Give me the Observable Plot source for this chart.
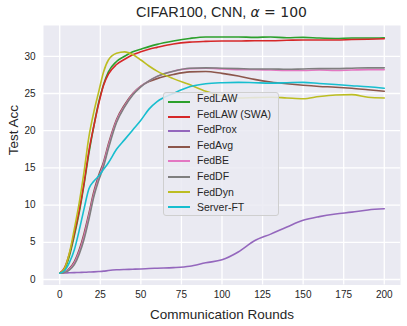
<!DOCTYPE html>
<html>
<head>
<meta charset="utf-8">
<script src="https://cdn.jsdelivr.net/npm/d3@7"></script>
<script src="https://cdn.jsdelivr.net/npm/@observablehq/plot@0.6"></script>
<style>
  html, body { margin: 0; padding: 0; background: #ffffff; }
  #wrap { position: relative; width: 407px; height: 326px; font-family: "Liberation Sans", Arial, sans-serif; color: #262626; }
  #title { position: absolute; left: 43px; width: 357px; top: 3px; text-align: center; font-size: 14.5px; line-height: 18px; white-space: nowrap; }
  #title .m { font-family: "DejaVu Sans", sans-serif; font-size: 14px; }
  #legend { position: absolute; left: 163px; top: 92px; width: 116px; height: 124px; box-sizing: border-box;
            border: 1px solid #cfcfcf; border-radius: 3px; background: rgba(234,234,242,0.85); }
  #legend .row { position: absolute; left: 0; height: 16px; line-height: 16px; font-size: 10.5px; white-space: nowrap; }
  #legend .sw { position: absolute; left: 4px; width: 22px; height: 0; border-top: 2px solid; }
  #legend .lb { position: absolute; left: 33px; top: 0; }
</style>
</head>
<body>
<div id="wrap">
  <div id="chart"></div>
  <div id="title">CIFAR100, CNN, <span class="m"><i>α</i> = 100</span></div>
  <div id="legend"></div>
</div>
<script>
// ---- data ----
const rounds = [0,3,6,9,12,15,18,21,24,27,30,35,40,45,50,55,60,70,80,90,100,110,120,130,140,150,160,170,180,190,200];

const seriesNames = ["FedLAW","FedLAW (SWA)","FedProx","FedAvg","FedBE","FedDF","FedDyn","Server-FT"];
const seriesColors = ["#2ca02c","#d62728","#9467bd","#8c564b","#e377c2","#7f7f7f","#bcbd22","#17becf"];

const fedLAW    = [0.85,1.4,3.2,5.9,9.0,12.8,17.0,20.6,23.8,26.2,27.9,29.3,30.0,30.6,30.95,31.3,31.6,32.05,32.4,32.6,32.6,32.6,32.55,32.6,32.5,32.55,32.45,32.4,32.45,32.45,32.5];
const fedLAWSWA = [0.85,1.6,3.5,6.2,9.3,13.0,17.3,20.6,23.6,26.1,27.6,28.9,29.6,30.2,30.6,30.95,31.2,31.65,31.9,32.0,32.05,32.05,32.1,32.1,32.15,32.2,32.2,32.2,32.25,32.3,32.35];
const fedProx   = [0.85,0.87,0.9,0.92,0.95,0.97,1.0,1.03,1.07,1.12,1.2,1.3,1.35,1.38,1.42,1.47,1.52,1.6,1.78,2.25,2.65,3.7,5.2,6.1,7.05,7.95,8.45,8.8,9.05,9.35,9.5];
const fedAvg    = [0.85,1.0,1.5,2.4,4.0,6.2,8.9,11.8,14.0,15.8,18.2,21.5,23.5,25.0,26.0,26.6,27.0,27.55,27.9,27.95,27.7,27.35,26.9,26.55,26.3,26.1,25.95,25.85,25.7,25.5,25.3];
const fedBE     = [0.85,0.97,1.4,2.2,3.7,5.8,8.5,11.4,13.6,15.5,17.9,21.3,23.3,24.9,25.95,26.7,27.3,28.0,28.35,28.4,28.3,28.2,28.2,28.15,28.1,28.1,28.15,28.1,28.15,28.2,28.2];
const fedDF     = [0.85,0.95,1.3,2.0,3.4,5.4,8.1,11.1,13.3,15.2,17.6,21.1,23.2,24.8,25.9,26.7,27.3,28.0,28.4,28.45,28.4,28.35,28.3,28.3,28.25,28.3,28.35,28.35,28.4,28.45,28.45];
const fedDyn    = [0.85,1.5,3.6,6.8,10.3,14.5,19.2,22.5,25.2,27.9,29.5,30.4,30.6,30.25,29.5,28.7,28.0,27.0,26.2,25.3,24.7,24.4,24.45,24.5,24.4,24.3,24.6,24.8,24.85,24.5,24.4];
const serverFT  = [0.85,1.2,2.3,4.0,6.6,9.5,12.2,13.2,13.9,14.8,15.7,17.5,18.8,20.1,21.4,22.9,23.9,25.0,25.9,26.3,26.45,26.5,26.45,26.4,26.45,26.5,26.35,26.2,26.05,25.9,25.7];

const xTicks = [0,25,50,75,100,125,150,175,200];
const yTicks = [0,5,10,15,20,25,30];

// ---- build tidy table ----
const valueArrays = [fedLAW, fedLAWSWA, fedProx, fedAvg, fedBE, fedDF, fedDyn, serverFT];
const table = [];
seriesNames.forEach((name, i) => {
  rounds.forEach((r, j) => table.push({series: name, round: r, acc: valueArrays[i][j]}));
});

const chart = Plot.plot({
  width: 407,
  height: 326,
  marginLeft: 43,
  marginRight: 7,
  marginTop: 25,
  marginBottom: 41.5,
  style: {fontFamily: "'Liberation Sans', Arial, sans-serif", fontSize: "10px", color: "#262626", background: "transparent"},
  x: {domain: [-10, 210]},
  y: {domain: [-0.74, 34.14]},
  color: {domain: seriesNames, range: seriesColors},
  marks: [
    Plot.frame({fill: "#EAEAF2", stroke: null}),
    Plot.gridX(xTicks, {stroke: "#ffffff", strokeOpacity: 1, strokeWidth: 1.3}),
    Plot.gridY(yTicks, {stroke: "#ffffff", strokeOpacity: 1, strokeWidth: 1.3}),
    Plot.axisX(xTicks, {tickSize: 0, tickPadding: 6, fontSize: 10, label: null}),
    Plot.axisY(yTicks, {tickSize: 0, tickPadding: 8, fontSize: 10, label: null}),
    Plot.line(table, {x: "round", y: "acc", z: "series", stroke: "series", strokeWidth: 1.6, curve: "monotone-x"}),
    Plot.text(["Communication Rounds"], {frameAnchor: "bottom", dy: 34, fontSize: 13.5, lineAnchor: "bottom", fill: "#262626"}),
    Plot.text(["Test Acc"], {frameAnchor: "left", dx: -30, rotate: -90, fontSize: 13.5, fill: "#262626"})
  ]
});
document.getElementById("chart").appendChild(chart);

// ---- legend ----
const legend = document.getElementById("legend");
seriesNames.forEach((name, i) => {
  const row = document.createElement("div");
  row.className = "row";
  row.style.top = Math.round(-3 + 15.6 * i) + "px";
  const sw = document.createElement("div");
  sw.className = "sw";
  sw.style.borderTopColor = seriesColors[i];
  sw.style.top = Math.round(7 + Math.max(0, 3.5 - i * 0.6)) + "px";
  const lb = document.createElement("span");
  lb.className = "lb";
  lb.textContent = name;
  row.appendChild(sw);
  row.appendChild(lb);
  legend.appendChild(row);
});
</script>
</body>
</html>
